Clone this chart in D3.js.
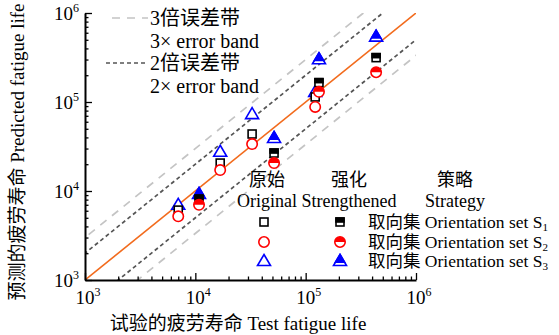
<!DOCTYPE html>
<html>
<head>
<meta charset="utf-8">
<script src="https://cdn.jsdelivr.net/npm/d3@7"></script>
<style>
  body { margin: 0; background: #fff; }
  text { font-family: "Liberation Serif", "Noto Sans CJK SC", serif; fill: #000; }
</style>
</head>
<body>
<svg id="chart" width="559" height="335"></svg>
<script>
// test life (x) and predicted life (y) for the three orientation sets
var origTest = [7000, 16800, 32700, 122000];
var origS1 = [6100, 20600, 43700, 114000];
var origS2 = [5200, 17200, 33700, 88000];
var origS3 = [7000, 27600, 73000, 130000];

var strTest = [10800, 51700, 132000, 435000];
var strS1 = [8100, 26700, 165000, 315000];
var strS2 = [7000, 20600, 130000, 216000];
var strS3 = [9250, 39400, 302000, 542000];

var decades = [1e3, 1e4, 1e5, 1e6];
var exponents = ["3", "4", "5", "6"];
var bands = [
    { k: 3, color: "#c4c4c4", dash: "8,7" },
    { k: 2, color: "#555555", dash: "4,3" }
];
var setNames = ["取向集 Orientation set S", "取向集 Orientation set S", "取向集 Orientation set S"];
var setSubs = ["1", "2", "3"];
var setColors = ["#000000", "#ff0000", "#0000ff"];
var setShapes = ["square", "circle", "triangle"];

var svg = d3.select("#chart");
var plotL = 85, plotR = 416, plotT = 13, plotB = 280;

var x = d3.scaleLog().domain([1e3, 1e6]).range([plotL, plotR]);
var y = d3.scaleLog().domain([1e3, 1e6]).range([plotB, plotT]);

var defs = svg.append("defs");
defs.append("clipPath").attr("id", "plotClip")
    .append("rect")
    .attr("x", plotL).attr("y", plotT)
    .attr("width", plotR - plotL).attr("height", plotB - plotT);
defs.append("clipPath").attr("id", "topHalf")
    .append("rect").attr("x", -8).attr("y", -8).attr("width", 16).attr("height", 8);
defs.append("clipPath").attr("id", "triTop")
    .append("rect").attr("x", -8).attr("y", -8).attr("width", 16).attr("height", 10);

// major + minor ticks
var ticks = [];
decades.forEach(function(d, i) {
    ticks.push(d);
    if (i < decades.length - 1) {
        for (var m = 2; m <= 9; m++) ticks.push(d * m);
    }
});
function isMajor(v) { return decades.indexOf(v) >= 0; }

var lines = svg.append("g").attr("clip-path", "url(#plotClip)");
var lineGen = d3.line()
    .x(function(d) { return x(d[0]); })
    .y(function(d) { return y(d[1]); });

bands.forEach(function(b) {
    [b.k, 1 / b.k].forEach(function(f) {
        lines.append("path")
            .attr("d", lineGen([[250, 250 * f], [4e6, 4e6 * f]]))
            .attr("fill", "none")
            .attr("stroke", b.color)
            .attr("stroke-width", 1.7)
            .attr("stroke-dasharray", b.dash);
    });
});
lines.append("path")
    .attr("d", lineGen([[1e3, 1e3], [1e6, 1e6]]))
    .attr("fill", "none")
    .attr("stroke", "#f26b1d")
    .attr("stroke-width", 1.6);

// axes
var xAxis = svg.append("g")
    .attr("transform", "translate(0," + plotB + ")")
    .call(d3.axisBottom(x).tickValues(ticks).tickSizeInner(-3.5).tickSizeOuter(0).tickFormat(""));
var yAxis = svg.append("g")
    .attr("transform", "translate(" + plotL + ",0)")
    .call(d3.axisLeft(y).tickValues(ticks).tickSizeInner(-3.5).tickSizeOuter(0).tickFormat(""));

[xAxis, yAxis].forEach(function(a) {
    a.select(".domain").attr("stroke", "#000").attr("stroke-width", 2);
    a.selectAll(".tick line").attr("stroke", "#000").attr("stroke-width", 1.3);
});
xAxis.selectAll(".tick").filter(isMajor).select("line").attr("y2", -7);
yAxis.selectAll(".tick").filter(isMajor).select("line").attr("x2", 7);

function powerLabel(sel) {
    sel.append("tspan").attr("font-size", 19).text("10");
    sel.append("tspan").attr("font-size", 12).attr("dy", -8)
        .text(function(d, i) { return exponents[i]; });
}
svg.append("g").selectAll("text").data(decades).enter().append("text")
    .attr("x", function(d) { return x(d) + 3; })
    .attr("y", plotB + 24)
    .attr("text-anchor", "middle")
    .call(powerLabel);
svg.append("g").selectAll("text").data(decades).enter().append("text")
    .attr("x", plotL - 6)
    .attr("y", function(d) { return y(d) + 7; })
    .attr("text-anchor", "end")
    .call(powerLabel);

svg.append("text")
    .attr("x", 238).attr("y", 330)
    .attr("text-anchor", "middle")
    .attr("font-size", 19)
    .text("试验的疲劳寿命 Test fatigue life");
svg.append("text")
    .attr("transform", "translate(24,152) rotate(-90)")
    .attr("text-anchor", "middle")
    .attr("font-size", 19)
    .text("预测的疲劳寿命 Predicted fatigue life");

// markers
function drawMarker(g, shape, color, half) {
    if (shape === "square") {
        g.append("rect").attr("x", -4).attr("y", -4)
            .attr("width", 8).attr("height", 8)
            .attr("fill", "#fff").attr("stroke", color).attr("stroke-width", 1.6);
        if (half) {
            g.append("rect").attr("x", -4).attr("y", -4)
                .attr("width", 8).attr("height", 4)
                .attr("fill", color).attr("stroke", color).attr("stroke-width", 1.6);
        }
    } else if (shape === "circle") {
        g.append("circle").attr("r", 5.2)
            .attr("fill", "#fff").attr("stroke", color).attr("stroke-width", 1.6);
        if (half) {
            g.append("circle").attr("r", 5.2).attr("fill", color)
                .attr("clip-path", "url(#topHalf)");
        }
    } else {
        var tri = "M0,-6.5L6.5,4.5L-6.5,4.5Z";
        g.append("path").attr("d", tri)
            .attr("fill", "#fff").attr("stroke", color).attr("stroke-width", 1.6);
        if (half) {
            g.append("path").attr("d", tri).attr("fill", color)
                .attr("stroke", color).attr("stroke-width", 1.6)
                .attr("clip-path", "url(#triTop)");
        }
    }
}

var groups = [
    { xs: origTest, ys: [origS1, origS2, origS3], half: false },
    { xs: strTest, ys: [strS1, strS2, strS3], half: true }
];
var pts = svg.append("g");
groups.forEach(function(grp) {
    [2, 0, 1].forEach(function(s) {
        grp.ys[s].forEach(function(v, i) {
            var g = pts.append("g")
                .attr("transform", "translate(" + x(grp.xs[i]) + "," + y(v) + ")");
            drawMarker(g, setShapes[s], setColors[s], grp.half);
        });
    });
});

// error band legend
var leg = svg.append("g");
[
    { y: 18, x1: 112, b: bands[0], t1: "3倍误差带", t2: "3× error band" },
    { y: 63, x1: 106, b: bands[1], t1: "2倍误差带", t2: "2× error band" }
].forEach(function(d) {
    leg.append("line")
        .attr("x1", d.x1).attr("x2", 148)
        .attr("y1", d.y).attr("y2", d.y)
        .attr("stroke", d.b.color).attr("stroke-width", 1.7)
        .attr("stroke-dasharray", d.b.dash);
    leg.append("text").attr("x", 150).attr("y", d.y + 7).attr("font-size", 20).text(d.t1);
    leg.append("text").attr("x", 150).attr("y", d.y + 30).attr("font-size", 20).text(d.t2);
});

// strategy legend
var heads = [
    { x: 267, cn: "原始", en: "Original" },
    { x: 349, cn: "强化", en: "Strengthened" },
    { x: 455, cn: "策略", en: "Strategy" }
];
heads.forEach(function(h) {
    leg.append("text").attr("x", h.x).attr("y", 186).attr("text-anchor", "middle")
        .attr("font-size", 18).text(h.cn);
    leg.append("text").attr("x", h.x).attr("y", 207).attr("text-anchor", "middle")
        .attr("font-size", 18).text(h.en);
});
[222, 242, 261].forEach(function(yy, s) {
    drawMarker(leg.append("g").attr("transform", "translate(264," + yy + ")"), setShapes[s], setColors[s], false);
    drawMarker(leg.append("g").attr("transform", "translate(340," + yy + ")"), setShapes[s], setColors[s], true);
    var t = leg.append("text").attr("x", 368).attr("y", yy + 6).attr("font-size", 17.5);
    t.append("tspan").text(setNames[s]);
    t.append("tspan").attr("font-size", 11).attr("dy", 3).text(setSubs[s]);
});
</script>
</body>
</html>
